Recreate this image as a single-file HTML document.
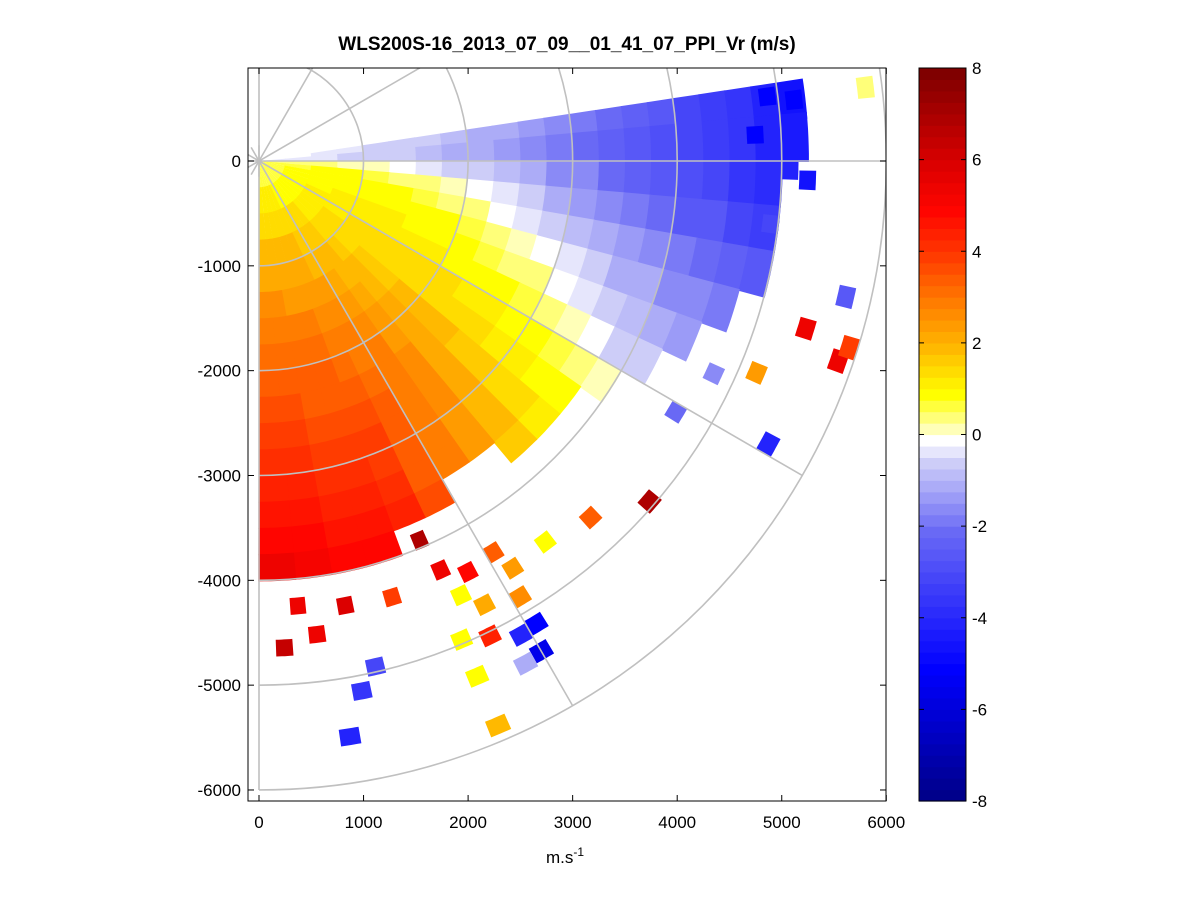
<!DOCTYPE html>
<html><head><meta charset="utf-8">
<style>
html,body{margin:0;padding:0;background:#fff;}
svg{display:block;font-family:"Liberation Sans",Arial,sans-serif;}
</style></head>
<body>
<svg id="chart" width="1201" height="901" viewBox="0 0 1201 901" xmlns="http://www.w3.org/2000/svg">
<rect x="0" y="0" width="1201" height="901" fill="#fff"/>
<defs><clipPath id="plotclip"><rect x="248" y="68" width="638" height="733"/></clipPath></defs>
<text x="567" y="50" text-anchor="middle" font-size="19" font-weight="bold">WLS200S-16_2013_07_09__01_41_07_PPI_Vr (m/s)</text>
<g id="data" clip-path="url(#plotclip)"></g>
<g id="grid" clip-path="url(#plotclip)"></g>
<rect x="248" y="68" width="638" height="733" fill="none" stroke="#000" stroke-width="1"/>
<g id="axes"></g>
<text x="565" y="863" text-anchor="middle" font-size="17">m.s<tspan dy="-7" font-size="12">-1</tspan></text>
<g id="cbar"></g>
</svg>
<script>
// ---- data ----
const azimuthCenters = [6.5,2.5,-2.5,-7.5,-12.5,-17.5,-22.5,-27.5,-32.5,-37.5,-42.5,-47.5,-52.5,-57.5,-62.5,-67.5,-72.5,-77.5,-82.5,-87.5];
const gateStart = [0,250,500,750,1000,1250,1500,1750,2000,2250,2500,2750,3000,3250,3500,3750,4000,4250,4500,4750,5000,5250,5500,5750];
const vrAz07 = [null,null,-0.3,-0.3,-0.4,-0.5,-0.6,-0.7,-0.9,-1.1,-1.3,-1.6,-1.8,-2.1,-2.3,-2.6,-2.9,-3.2,-3.5,-3.9,-4.4,null,null,null];
const vrAz02 = [-0.2,-0.3,-0.3,-0.4,-0.5,-0.6,-0.7,-0.9,-1.1,-1.3,-1.5,-1.7,-1.9,-2.2,-2.4,-2.7,-3.0,-3.3,-3.6,-3.9,-4.2,null,null,null];
const vrAzM02 = [0.6,0.5,0.4,0.3,0.2,0.1,-0.2,-0.4,-0.6,-0.8,-1.1,-1.4,-1.6,-1.9,-2.2,-2.5,-2.8,-3.1,-3.4,-3.8,null,null,null,null];
const vrAzM07 = [0.7,0.8,0.9,0.9,0.8,0.6,0.4,0.2,0,-0.3,-0.6,-0.9,-1.2,-1.5,-1.8,-2.1,-2.4,-2.6,-2.9,-3.2,null,null,null,null];
const vrAzM12 = [0.8,0.9,1,1,1,0.9,0.8,0.6,0.4,0.1,-0.2,-0.5,-0.8,-1.0,-1.3,-1.5,-1.8,-2.0,-2.3,-2.5,null,null,null,null];
const vrAzM17 = [0.8,1,1.1,1.1,1.1,1,1,0.9,0.7,0.5,0.2,0,-0.3,-0.6,-0.9,-1.1,-1.4,-1.6,-1.8,null,null,null,null,null];
const vrAzM22 = [0.8,1,1.1,1.2,1.2,1.2,1.1,1,0.9,0.8,0.6,0.4,0.1,-0.2,-0.5,-0.8,-1.0,-1.2,null,null,null,null,null,null];
const vrAzM27 = [0.8,1,1.2,1.2,1.3,1.3,1.3,1.2,1.1,1,0.9,0.7,0.5,0.2,0,-0.4,-0.6,null,null,null,null,null,null,null];
const vrAzM32 = [0.8,1,1.2,1.3,1.4,1.5,1.5,1.5,1.4,1.3,1.2,1.1,0.9,0.7,0.5,0.2,null,null,null,null,null,null,null,null];
const vrAzM37 = [0.8,1,1.2,1.4,1.5,1.6,1.6,1.6,1.6,1.5,1.4,1.3,1.2,1.1,0.9,null,null,null,null,null,null,null,null,null];
const vrAzM42 = [0.8,1,1.3,1.5,1.6,1.7,1.8,1.9,1.9,1.9,1.8,1.7,1.6,1.5,1.3,null,null,null,null,null,null,null,null,null];
const vrAzM47 = [0.8,1,1.3,1.6,1.8,1.9,2.0,2.2,2.3,2.3,2.3,2.2,2.1,2,1.8,null,null,null,null,null,null,null,null,null];
const vrAzM52 = [0.8,1.1,1.4,1.7,1.9,2.1,2.3,2.5,2.6,2.7,2.7,2.7,2.6,2.5,null,null,null,null,null,null,null,null,null,null];
const vrAzM57 = [0.8,1.1,1.4,1.7,2.0,2.3,2.5,2.7,2.9,3.0,3.1,3.1,3.1,3.0,null,null,null,null,null,null,null,null,null,null];
const vrAzM62 = [0.8,1.1,1.5,1.8,2.1,2.4,2.7,2.9,3.1,3.3,3.4,3.5,3.6,3.6,3.7,null,null,null,null,null,null,null,null,null];
const vrAzM67 = [0.8,1.2,1.5,1.9,2.2,2.5,2.8,3.1,3.3,3.5,3.7,3.9,4.0,4.2,4.4,null,null,null,null,null,null,null,null,null];
const vrAzM72 = [0.8,1.2,1.5,1.9,2.3,2.6,2.9,3.2,3.4,3.6,3.8,4.0,4.2,4.4,4.7,5.0,null,null,null,null,null,null,null,null];
const vrAzM77 = [0.8,1.2,1.5,1.9,2.3,2.6,2.9,3.2,3.4,3.6,3.8,4.1,4.3,4.6,4.8,5.1,null,null,null,null,null,null,null,null];
const vrAzM82 = [0.8,1.2,1.5,1.9,2.3,2.7,3.0,3.3,3.5,3.7,3.9,4.2,4.4,4.7,5.0,5.3,null,null,null,null,null,null,null,null];
const vrAzM87 = [0.8,1.2,1.5,1.9,2.3,2.7,3.0,3.3,3.5,3.8,4.0,4.3,4.6,4.8,5.1,5.4,null,null,null,null,null,null,null,null];
const vrRows = [vrAz07,vrAz02,vrAzM02,vrAzM07,vrAzM12,vrAzM17,vrAzM22,vrAzM27,vrAzM32,vrAzM37,vrAzM42,vrAzM47,vrAzM52,vrAzM57,vrAzM62,vrAzM67,vrAzM72,vrAzM77,vrAzM82,vrAzM87];
// isolated gates: azimuth (deg), range (m), velocity
const scatterAz = [6.9,7.2,6.5,3,-1,-2,-7,-13,-17,-19,-17.5,-23,-25,-31,-29,-41,-47,-53,-59,-58,-59,-63,-65,-67,-64,-61,-59,-60,-62,-67,-67,-77,-79,-81,-87,-83,-85,-79,-67,-66,-63,-73];
const scatterR = [5842,4900,5150,4752,5080,5250,4930,5760,5470,5860,5920,5170,4800,4650,5570,4950,4650,4550,4355,4580,4850,4750,4570,4960,5040,5170,5150,5400,5430,5340,5850,4950,5150,5560,4650,4550,4260,4320,3930,4270,4400,4350];
const scatterV = [0.5,-5,-5,-5,-4,-4.5,-3,-2.5,5.5,5.5,4,2.5,-1.5,-2,-4,7,3.5,1,3.5,2.5,2.7,2.2,1,1,4.5,-4,-5,-5.5,-1,1,2,-3,-3.5,-4,6.5,5.5,5.5,6,7,5.5,5,4];
const cbarTicks = [-8,-6,-4,-2,0,2,4,6,8];
const xTicks = [0,1000,2000,3000,4000,5000,6000];
const yTicks = [0,-1000,-2000,-3000,-4000,-5000,-6000];
const ringRadii = [1000,2000,3000,4000,5000,6000];
const spokeAngles = [90,60,30,0,-30,-60,-90];

// ---- scales ----
const X = v => 259 + v*0.10455;
const Y = v => 161 - v*0.10483;
const stops = [[-8,[0,0,128]],[-5,[0,0,255]],[-2,[105,105,245]],[-0.5,[205,205,248]],[0,[255,255,255]],[0.3,[255,255,170]],[1,[255,255,0]],[2,[255,185,0]],[3,[255,125,0]],[4,[255,60,0]],[5,[255,5,0]],[6,[220,0,0]],[8,[128,0,0]]];
function cmap(v){
  v=Math.max(-8,Math.min(8,v));
  v=Math.round(v*4)/4;
  for(let i=0;i<stops.length-1;i++){
    const [a,ca]=stops[i],[b,cb]=stops[i+1];
    if(v>=a&&v<=b){const t=(v-a)/(b-a);return 'rgb('+ca.map((c,k)=>Math.round(c+(cb[k]-c)*t)).join(',')+')';}
  }
  return '#fff';
}
const NS='http://www.w3.org/2000/svg';
function mk(tag,attrs,parent){const e=document.createElementNS(NS,tag);for(const k in attrs)e.setAttribute(k,attrs[k]);parent.appendChild(e);return e;}
function sector(a0,a1,r0,r1){
  const pts=[];const n=6;
  for(let i=0;i<=n;i++){const a=(a0+(a1-a0)*i/n)*Math.PI/180;pts.push([X(r1*Math.cos(a)),Y(r1*Math.sin(a))]);}
  for(let i=n;i>=0;i--){const a=(a0+(a1-a0)*i/n)*Math.PI/180;pts.push([X(r0*Math.cos(a)),Y(r0*Math.sin(a))]);}
  return pts.map(p=>p[0].toFixed(1)+','+p[1].toFixed(1)).join(' ');
}
const gData=document.getElementById('data');
vrRows.forEach((row,ai)=>{
  const az=azimuthCenters[ai];
  const hw = ai===0 ? 2.1 : 2.6;
  row.forEach((v,gi)=>{
    if(v===null)return;
    const p=mk('polygon',{points:sector(az-hw,az+hw,gateStart[gi],gateStart[gi]+260),fill:cmap(v)},gData);
    
    
  });
});
scatterAz.forEach((az,i)=>{
  const p=mk('polygon',{points:sector(az-1.0,az+1.0,scatterR[i]-80,scatterR[i]+80),fill:cmap(scatterV[i])},gData);
  
  
});
// grid
const gGrid=document.getElementById('grid');
ringRadii.forEach(r=>{
  const d='M'+X(0)+','+Y(-r)+' A'+(r*0.10455)+','+(r*0.10483)+' 0 0 0 '+X(0)+','+Y(r);
  const e=mk('path',{d:d,fill:'none',stroke:'#c0c0c0','stroke-width':1.6},gGrid);
  
  
});
spokeAngles.forEach(a=>{
  const t=a*Math.PI/180;
  const e=mk('line',{x1:X(-150*Math.cos(t)),y1:Y(-150*Math.sin(t)),x2:X(6000*Math.cos(t)),y2:Y(6000*Math.sin(t)),stroke:'#c0c0c0','stroke-width':1.6},gGrid);
  
  
});
// axes
const gAx=document.getElementById('axes');
xTicks.forEach(v=>{
  const x=X(v);
  mk('line',{x1:x,y1:801,x2:x,y2:795,stroke:'#000'},gAx);
  mk('line',{x1:x,y1:68,x2:x,y2:74,stroke:'#000'},gAx);
  const t=mk('text',{x:x,y:828,'text-anchor':'middle','font-size':17},gAx);
  t.textContent=v;
  
  
});
yTicks.forEach(v=>{
  const y=Y(v);
  mk('line',{x1:248,y1:y,x2:254,y2:y,stroke:'#000'},gAx);
  mk('line',{x1:886,y1:y,x2:880,y2:y,stroke:'#000'},gAx);
  const t=mk('text',{x:241,y:y+6,'text-anchor':'end','font-size':17},gAx);
  t.textContent=v;
  
  
});
// colorbar
const gC=document.getElementById('cbar');
const CY=v=>801-(v+8)/16*733;
const nLev=64;
for(let i=0;i<nLev;i++){
  const v0=-8+16*i/nLev,v1=-8+16*(i+1)/nLev;
  const r=mk('rect',{x:919,y:CY(v1),width:47,height:CY(v0)-CY(v1)+0.6,fill:cmap((v0+v1)/2)},gC);
  
  
}
mk('rect',{x:919,y:68,width:47,height:733,fill:'none',stroke:'#000'},gC);
cbarTicks.forEach(v=>{
  const y=CY(v);
  mk('line',{x1:919,y1:y,x2:924,y2:y,stroke:'#000'},gC);
  mk('line',{x1:966,y1:y,x2:961,y2:y,stroke:'#000'},gC);
  const t=mk('text',{x:972,y:y+6,'font-size':17},gC);
  t.textContent=v;
  
  
});
</script>
</body></html>
